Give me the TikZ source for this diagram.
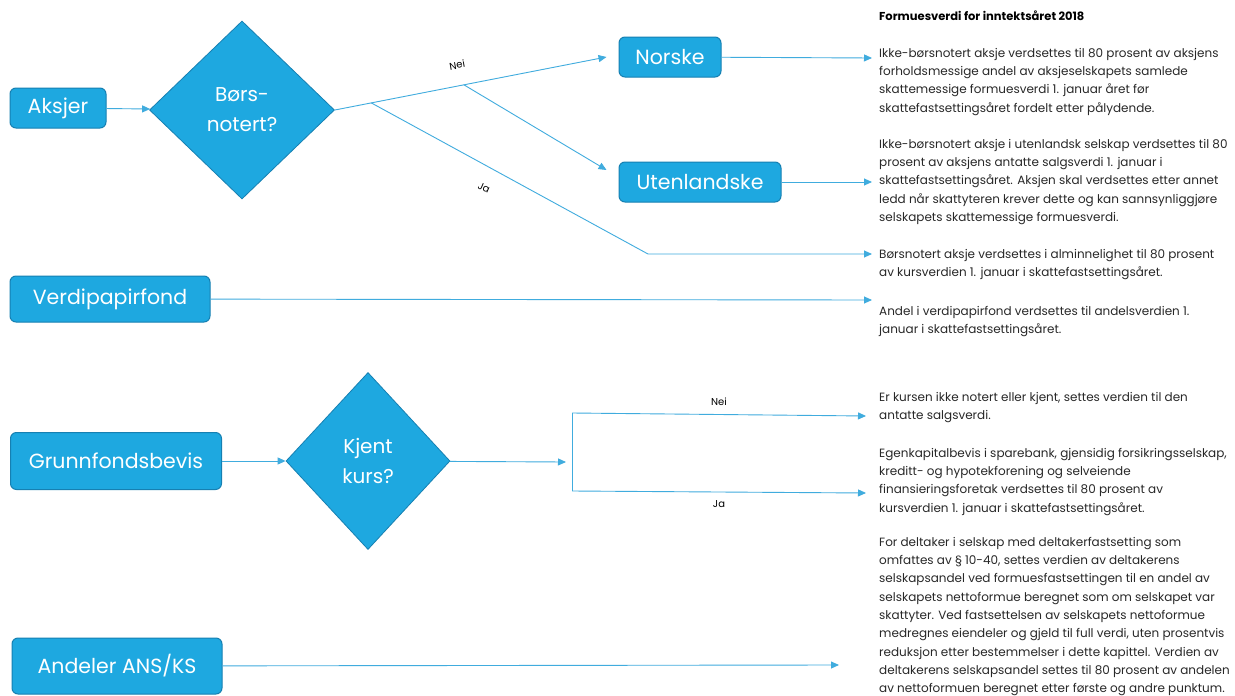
\documentclass[tikz,border=0pt]{standalone}
\usepackage{fontspec}
\setmainfont{Poppins}
\usepackage{xcolor}
\usepackage{tikz}
\usetikzlibrary{shapes.geometric,positioning,arrows.meta}
\definecolor{boxblue}{RGB}{30,168,224}
\definecolor{boxedge}{RGB}{22,128,178}
\definecolor{lineblue}{RGB}{64,172,222}
\definecolor{txtgray}{RGB}{40,40,40}

\begin{document}
\begin{tikzpicture}[x=1pt,y=-1pt,
    box/.style={draw=boxedge, line width=1pt, fill=boxblue, rounded corners=6pt, text=white, inner sep=0pt, font=\fontsize{20.5}{24}\selectfont},
    choice/.style={diamond, aspect=1, draw=boxedge, line width=0.8pt, fill=boxblue, text=white, inner sep=0pt, align=center, font=\fontsize{20}{30}\selectfont},
    flow/.style={draw=lineblue, line width=0.9pt, -{Triangle[length=8pt,width=7pt]}},
    link/.style={draw=lineblue, line width=0.9pt},
    lbl/.style={text=black, inner sep=0pt, font=\fontsize{10}{12}\selectfont},
    para/.style={anchor=north west, align=left, inner sep=0pt, text=txtgray, font=\fontsize{12}{18.3}\selectfont}]

                \useasboundingbox[fill=white] (0,0) rectangle (1235,696);

                \node[box, minimum width=96pt, minimum height=40pt] (aksjer) at (58,108) {Aksjer};
                \node[choice, minimum width=185pt, minimum height=178pt] (bors) at (242,110) {Børs-\\notert?};
                \node[box, minimum width=102pt, minimum height=40pt] (norske) at (670,57) {Norske};
                \node[box, minimum width=162pt, minimum height=40pt] (utenl) at (700,182) {Utenlandske};
                \node[box, minimum width=200pt, minimum height=46pt] (verdi) at (110,299) {Verdipapirfond};
                \node[box, minimum width=211pt, minimum height=57pt] (grunn) at (116,461) {Grunnfondsbevis};
                \node[choice, minimum width=164pt, minimum height=177pt] (kurs) at (368,461) {Kjent\\kurs?};
                \node[box, minimum width=210pt, minimum height=56pt] (andeler) at (117,666) {Andeler ANS/KS};

                \node[anchor=west, inner sep=0pt, text=black, font=\bfseries\fontsize{11.5}{12}\selectfont] (title) at (879,16) {Formuesverdi for inntektsåret 2018};

                \node[para] (p1) at (879,48) {Ikke-børsnotert aksje verdsettes til 80 prosent av aksjens\\forholdsmessige andel av aksjeselskapets samlede\\skattemessige formuesverdi 1. januar året før\\skattefastsettingsåret fordelt etter pålydende.};
                \node[para] (p2) at (879,139) {Ikke-børsnotert aksje i utenlandsk selskap verdsettes til 80\\prosent av aksjens antatte salgsverdi 1. januar i\\skattefastsettingsåret. Aksjen skal verdsettes etter annet\\ledd når skattyteren krever dette og kan sannsynliggjøre\\selskapets skattemessige formuesverdi.};
                \node[para] (p3) at (879,249) {Børsnotert aksje verdsettes i alminnelighet til 80 prosent\\av kursverdien 1. januar i skattefastsettingsåret.};
                \node[para] (p4) at (879,306) {Andel i verdipapirfond verdsettes til andelsverdien 1.\\januar i skattefastsettingsåret.};
                \node[para] (p5) at (879,392) {Er kursen ikke notert eller kjent, settes verdien til den\\antatte salgsverdi.};
                \node[para] (p6) at (879,448) {Egenkapitalbevis i sparebank, gjensidig forsikringsselskap,\\kreditt- og hypotekforening og selveiende\\finansieringsforetak verdsettes til 80 prosent av\\kursverdien 1. januar i skattefastsettingsåret.};
                \node[para] (p7) at (879,537) {For deltaker i selskap med deltakerfastsetting som\\omfattes av § 10-40, settes verdien av deltakerens\\selskapsandel ved formuesfastsettingen til en andel av\\selskapets nettoformue beregnet som om selskapet var\\skattyter. Ved fastsettelsen av selskapets nettoformue\\medregnes eiendeler og gjeld til full verdi, uten prosentvis\\reduksjon etter bestemmelser i dette kapittel. Verdien av\\deltakerens selskapsandel settes til 80 prosent av andelen\\av nettoformuen beregnet etter første og andre punktum.};

                \coordinate (t1) at (872,58);
                \coordinate (t2) at (872,182);
                \coordinate (jk) at (648,254);
                \coordinate (t3) at (872,254);
                \coordinate (t4) at (872,300);
                \coordinate (kin) at (566,462);
                \coordinate (ktop) at (572,413);
                \coordinate (kbot) at (572,491);
                \coordinate (t5) at (866,416);
                \coordinate (t6) at (866,493);
                \coordinate (t7) at (839,665);

                \draw[flow] (aksjer) -- (bors);
                \draw[flow] (bors.east) -- coordinate[pos=0.134] (jb) coordinate[pos=0.45] (nl) coordinate[pos=0.475] (nb) ([xshift=-12pt]norske.west);
                \draw[flow] (nb) -- ([xshift=-12pt,yshift=12pt]utenl.west);
                \draw[flow] (jb) -- coordinate[pos=0.4] (jl) (jk) -- (t3);
                \node[lbl, rotate=10] (nei1) at ([yshift=21pt]nl) {Nei};
                \node[lbl, rotate=-24] (ja1) at ([xshift=2pt,yshift=-24pt]jl) {Ja};
                \draw[flow] (norske) -- (t1);
                \draw[flow] (utenl) -- (t2);
                \draw[flow] (verdi) -- (t4);

                \draw[flow] (grunn) -- (kurs);
                \draw[flow] (kurs) -- (kin);
                \draw[link] (ktop) -- (kbot);
                \draw[flow] (ktop) -- node[lbl, above=8pt] (nei2) {Nei} (t5);
                \draw[flow] (kbot) -- node[lbl, below=8pt] (ja2) {Ja} (t6);
                \draw[flow] (andeler) -- (t7);

\end{tikzpicture}
\end{document}
